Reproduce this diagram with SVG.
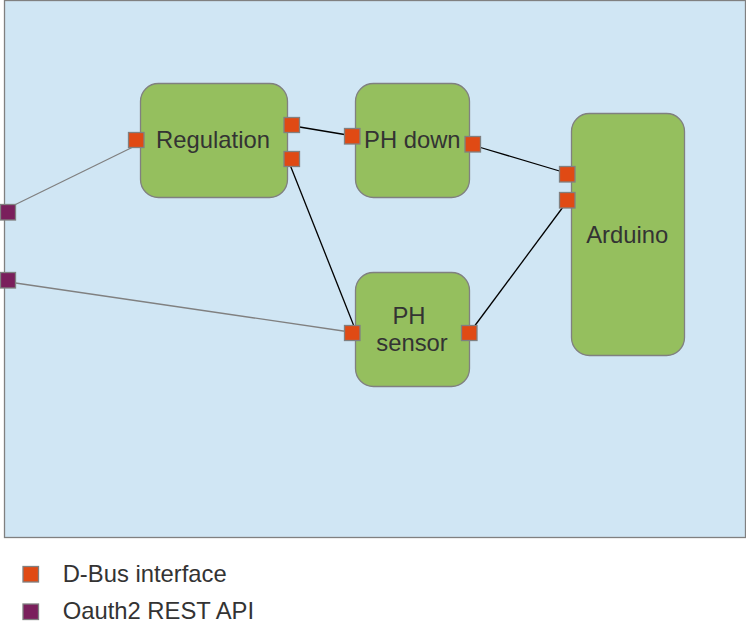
<svg xmlns="http://www.w3.org/2000/svg" width="746" height="631" viewBox="0 0 746 631">
<style>
.node{fill:#95bf5e;stroke:#808080;stroke-width:1.3}
.dbus{fill:#e04a14;stroke:#808080;stroke-width:1.3}
.rest{fill:#7a1f5c;stroke:#808080;stroke-width:1.3}
.lbl{font-family:"Liberation Sans",Arial,sans-serif;font-size:23.8px;fill:#333333}
.mid{text-anchor:middle}
.blk{stroke:#000000;stroke-width:1.3;fill:none}
.gry{stroke:#808080;stroke-width:1.3;fill:none}
</style>
<rect x="4.5" y="0.5" width="741" height="537" fill="#d0e6f4" stroke="#808080" stroke-width="1.3"/>
<g id="connectors">
<line class="gry" x1="15.5" y1="204.5" x2="133" y2="147"/>
<line class="gry" x1="15.5" y1="283" x2="350" y2="332"/>
<line class="blk" x1="299.5" y1="127" x2="344.5" y2="134.5"/>
<line class="blk" x1="290.5" y1="166" x2="353.5" y2="325"/>
<line class="blk" x1="480.5" y1="147.5" x2="559.5" y2="171"/>
<line class="blk" x1="475" y1="325.5" x2="563" y2="207"/>
</g>
<g id="regulation">
<rect class="node" x="140.5" y="83.5" width="147" height="114" rx="18"/>
<text class="lbl mid" x="213" y="148.3">Regulation</text>
<rect class="dbus" x="128.5" y="132.5" width="15.5" height="15"/>
<rect class="dbus" x="284" y="117.5" width="15.5" height="15"/>
<rect class="dbus" x="284" y="151.5" width="15.5" height="15"/>
</g>
<g id="ph-down">
<rect class="node" x="355.5" y="83.5" width="114" height="114" rx="18"/>
<text class="lbl mid" x="412.3" y="148.3">PH down</text>
<rect class="dbus" x="344.5" y="128.5" width="15.5" height="15.5"/>
<rect class="dbus" x="465" y="136.5" width="15.5" height="15.5"/>
</g>
<g id="ph-sensor">
<rect class="node" x="355.5" y="272.5" width="114" height="114" rx="18"/>
<text class="lbl mid" x="409" y="324.3">PH</text>
<text class="lbl mid" x="412" y="350.7">sensor</text>
<rect class="dbus" x="344.5" y="325.5" width="15.5" height="15"/>
<rect class="dbus" x="461.5" y="325.5" width="15.5" height="15"/>
</g>
<g id="arduino">
<rect class="node" x="571.5" y="113.5" width="113" height="242" rx="18"/>
<text class="lbl mid" x="627.2" y="242.7">Arduino</text>
<rect class="dbus" x="559.5" y="166.5" width="15.5" height="15.5"/>
<rect class="dbus" x="559.5" y="192.5" width="15.5" height="15.5"/>
</g>
<g id="rest-ports">
<rect class="rest" x="0.5" y="204.5" width="15" height="15.5"/>
<rect class="rest" x="0.5" y="272.5" width="15" height="15.5"/>
</g>
<g id="legend">
<rect class="dbus" x="23" y="566.5" width="15.5" height="15.5"/>
<text class="lbl" x="62.7" y="581.7">D-Bus interface</text>
<rect class="rest" x="23" y="604" width="15.5" height="15.5"/>
<text class="lbl" x="62.7" y="619.3">Oauth2 REST API</text>
</g>
</svg>
